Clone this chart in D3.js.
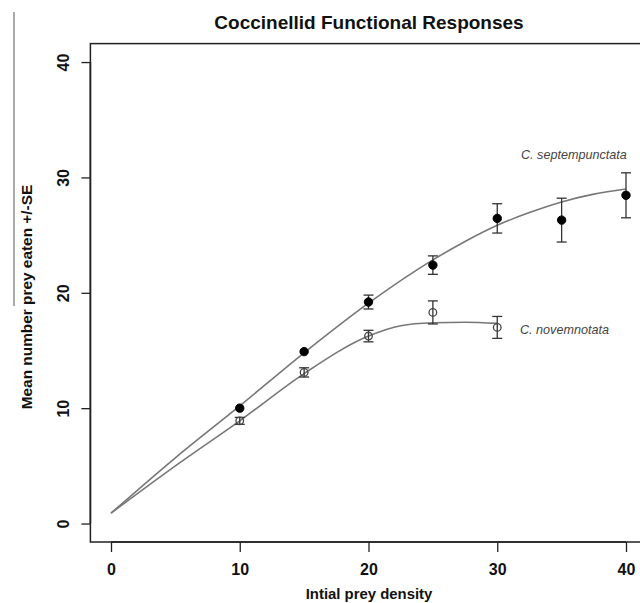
<!DOCTYPE html>
<html>
<head>
<meta charset="utf-8">
<script src="https://cdn.jsdelivr.net/npm/d3@7/dist/d3.min.js"></script>
<style>
  body { margin: 0; background: #fff; }
  text { font-family: "Liberation Sans", Arial, sans-serif; fill: #111; }
</style>
</head>
<body>
<div id="chart"></div>
<script>

// observed means and standard errors
var septDensity = [10, 15, 20, 25, 30, 35, 40];
var septMean = [10.0, 14.9, 19.2, 22.4, 26.45, 26.3, 28.45];
var septSE = [0, 0, 0.6, 0.8, 1.27, 1.9, 1.95];

var novDensity = [10, 15, 20, 25, 30];
var novMean = [8.9, 13.1, 16.25, 18.3, 17.0];
var novSE = [0.3, 0.4, 0.5, 1.0, 0.95];

// fitted curves
var septCurveX = [0, 5, 10, 15, 20, 25, 27.5, 30, 32.5, 35, 37.5, 40];
var septCurveY = [0.9, 5.7, 10.2, 14.8, 19.1, 22.85, 24.45, 25.85, 26.95, 27.87, 28.55, 29.0];

var novCurveX = [0, 5, 10, 15, 20, 22.5, 25, 27.5, 30];
var novCurveY = [0.9, 5.0, 8.9, 13.0, 16.25, 17.15, 17.4, 17.45, 17.35];

var xTicks = [0, 10, 20, 30, 40];
var yTicks = [0, 10, 20, 30, 40];

var width = 640,
    height = 603;

var svg = d3.select("#chart")
    .append("svg")
    .attr("width", width)
    .attr("height", height);

svg.append("rect")
    .attr("width", "100%")
    .attr("height", "100%")
    .attr("fill", "white");

var x = d3.scaleLinear().domain([-1.6, 41.6]).range([90.4, 646.6]);
var y = d3.scaleLinear().domain([-1.6, 41.6]).range([542, 43.6]);

// stray scan line at the far left
svg.append("line")
    .attr("x1", 14).attr("x2", 14)
    .attr("y1", 12).attr("y2", 306)
    .attr("stroke", "#555")
    .attr("stroke-width", 1);

// plot frame
svg.append("rect")
    .attr("x", x(-1.6))
    .attr("y", y(41.6))
    .attr("width", x(41.6) - x(-1.6))
    .attr("height", y(-1.6) - y(41.6))
    .attr("fill", "none")
    .attr("stroke", "#222")
    .attr("stroke-width", 1.5);

// x axis
var xAxis = svg.append("g")
    .attr("transform", "translate(0," + y(-1.6) + ")")
    .call(d3.axisBottom(x).tickValues(xTicks).tickSize(10).tickSizeOuter(0));
xAxis.select(".domain")
    .attr("d", "M" + x(0) + ",0H" + x(40))
    .attr("stroke", "#222")
    .attr("stroke-width", 1.6);
xAxis.selectAll(".tick line").attr("stroke", "#222").attr("stroke-width", 1.3);
xAxis.selectAll(".tick text")
    .attr("y", 33)
    .attr("dy", 0)
    .attr("font-size", 16)
    .attr("font-weight", "bold")
    .style("font-family", "Liberation Sans, Arial, sans-serif")
    .attr("fill", "#111");

// y axis, labels rotated like base R
var yAxis = svg.append("g")
    .attr("transform", "translate(" + x(-1.6) + ",0)")
    .call(d3.axisLeft(y).tickValues(yTicks).tickSize(9).tickSizeOuter(0));
yAxis.select(".domain")
    .attr("d", "M0," + y(0) + "V" + y(40))
    .attr("stroke", "#222")
    .attr("stroke-width", 1.6);
yAxis.selectAll(".tick line").attr("stroke", "#222").attr("stroke-width", 1.3);
yAxis.selectAll(".tick text")
    .attr("transform", "rotate(-90)")
    .attr("x", 0)
    .attr("y", -21.5)
    .attr("dy", 0)
    .attr("text-anchor", "middle")
    .attr("font-size", 16)
    .attr("font-weight", "bold")
    .style("font-family", "Liberation Sans, Arial, sans-serif")
    .attr("fill", "#111");

// fitted lines
var line = d3.line()
    .x(function(d) { return x(d[0]); })
    .y(function(d) { return y(d[1]); })
    .curve(d3.curveMonotoneX);

svg.append("path")
    .datum(d3.zip(septCurveX, septCurveY))
    .attr("d", line)
    .attr("fill", "none")
    .attr("stroke", "#777")
    .attr("stroke-width", 1.6);

svg.append("path")
    .datum(d3.zip(novCurveX, novCurveY))
    .attr("d", line)
    .attr("fill", "none")
    .attr("stroke", "#777")
    .attr("stroke-width", 1.6);

function drawSeries(dens, mean, se, filled) {
    var rows = d3.zip(dens, mean, se);
    var g = svg.append("g");

    var bars = g.selectAll("g.err")
        .data(rows.filter(function(d) { return d[2] > 0; }))
        .enter().append("g")
        .attr("stroke", "#333")
        .attr("stroke-width", 1.3);

    bars.append("line")
        .attr("x1", function(d) { return x(d[0]); })
        .attr("x2", function(d) { return x(d[0]); })
        .attr("y1", function(d) { return y(d[1] - d[2]); })
        .attr("y2", function(d) { return y(d[1] + d[2]); });
    bars.append("line")
        .attr("x1", function(d) { return x(d[0]) - 5; })
        .attr("x2", function(d) { return x(d[0]) + 5; })
        .attr("y1", function(d) { return y(d[1] + d[2]); })
        .attr("y2", function(d) { return y(d[1] + d[2]); });
    bars.append("line")
        .attr("x1", function(d) { return x(d[0]) - 5; })
        .attr("x2", function(d) { return x(d[0]) + 5; })
        .attr("y1", function(d) { return y(d[1] - d[2]); })
        .attr("y2", function(d) { return y(d[1] - d[2]); });

    g.selectAll("circle")
        .data(rows)
        .enter().append("circle")
        .attr("cx", function(d) { return x(d[0]); })
        .attr("cy", function(d) { return y(d[1]); })
        .attr("r", filled ? 4.2 : 3.8)
        .attr("fill", filled ? "#000" : "none")
        .attr("stroke", filled ? "#000" : "#444")
        .attr("stroke-width", filled ? 1 : 1.3);
}

drawSeries(novDensity, novMean, novSE, false);
drawSeries(septDensity, septMean, septSE, true);

// species labels
svg.append("text")
    .attr("x", 521)
    .attr("y", 159)
    .attr("font-size", 12.6)
    .attr("font-style", "italic")
    .style("fill", "#444")
    .text("C. septempunctata");

svg.append("text")
    .attr("x", 520)
    .attr("y", 334)
    .attr("font-size", 12.6)
    .attr("font-style", "italic")
    .style("fill", "#444")
    .text("C. novemnotata");

// titles
svg.append("text")
    .attr("x", 369)
    .attr("y", 29)
    .attr("text-anchor", "middle")
    .attr("font-size", 19)
    .attr("font-weight", "bold")
    .text("Coccinellid Functional Responses");

svg.append("text")
    .attr("x", 369)
    .attr("y", 599)
    .attr("text-anchor", "middle")
    .attr("font-size", 14.9)
    .attr("font-weight", "bold")
    .text("Intial prey density");

svg.append("text")
    .attr("transform", "translate(32,297) rotate(-90)")
    .attr("text-anchor", "middle")
    .attr("font-size", 15.4)
    .attr("font-weight", "bold")
    .text("Mean number prey eaten +/-SE");

</script>
</body>
</html>
